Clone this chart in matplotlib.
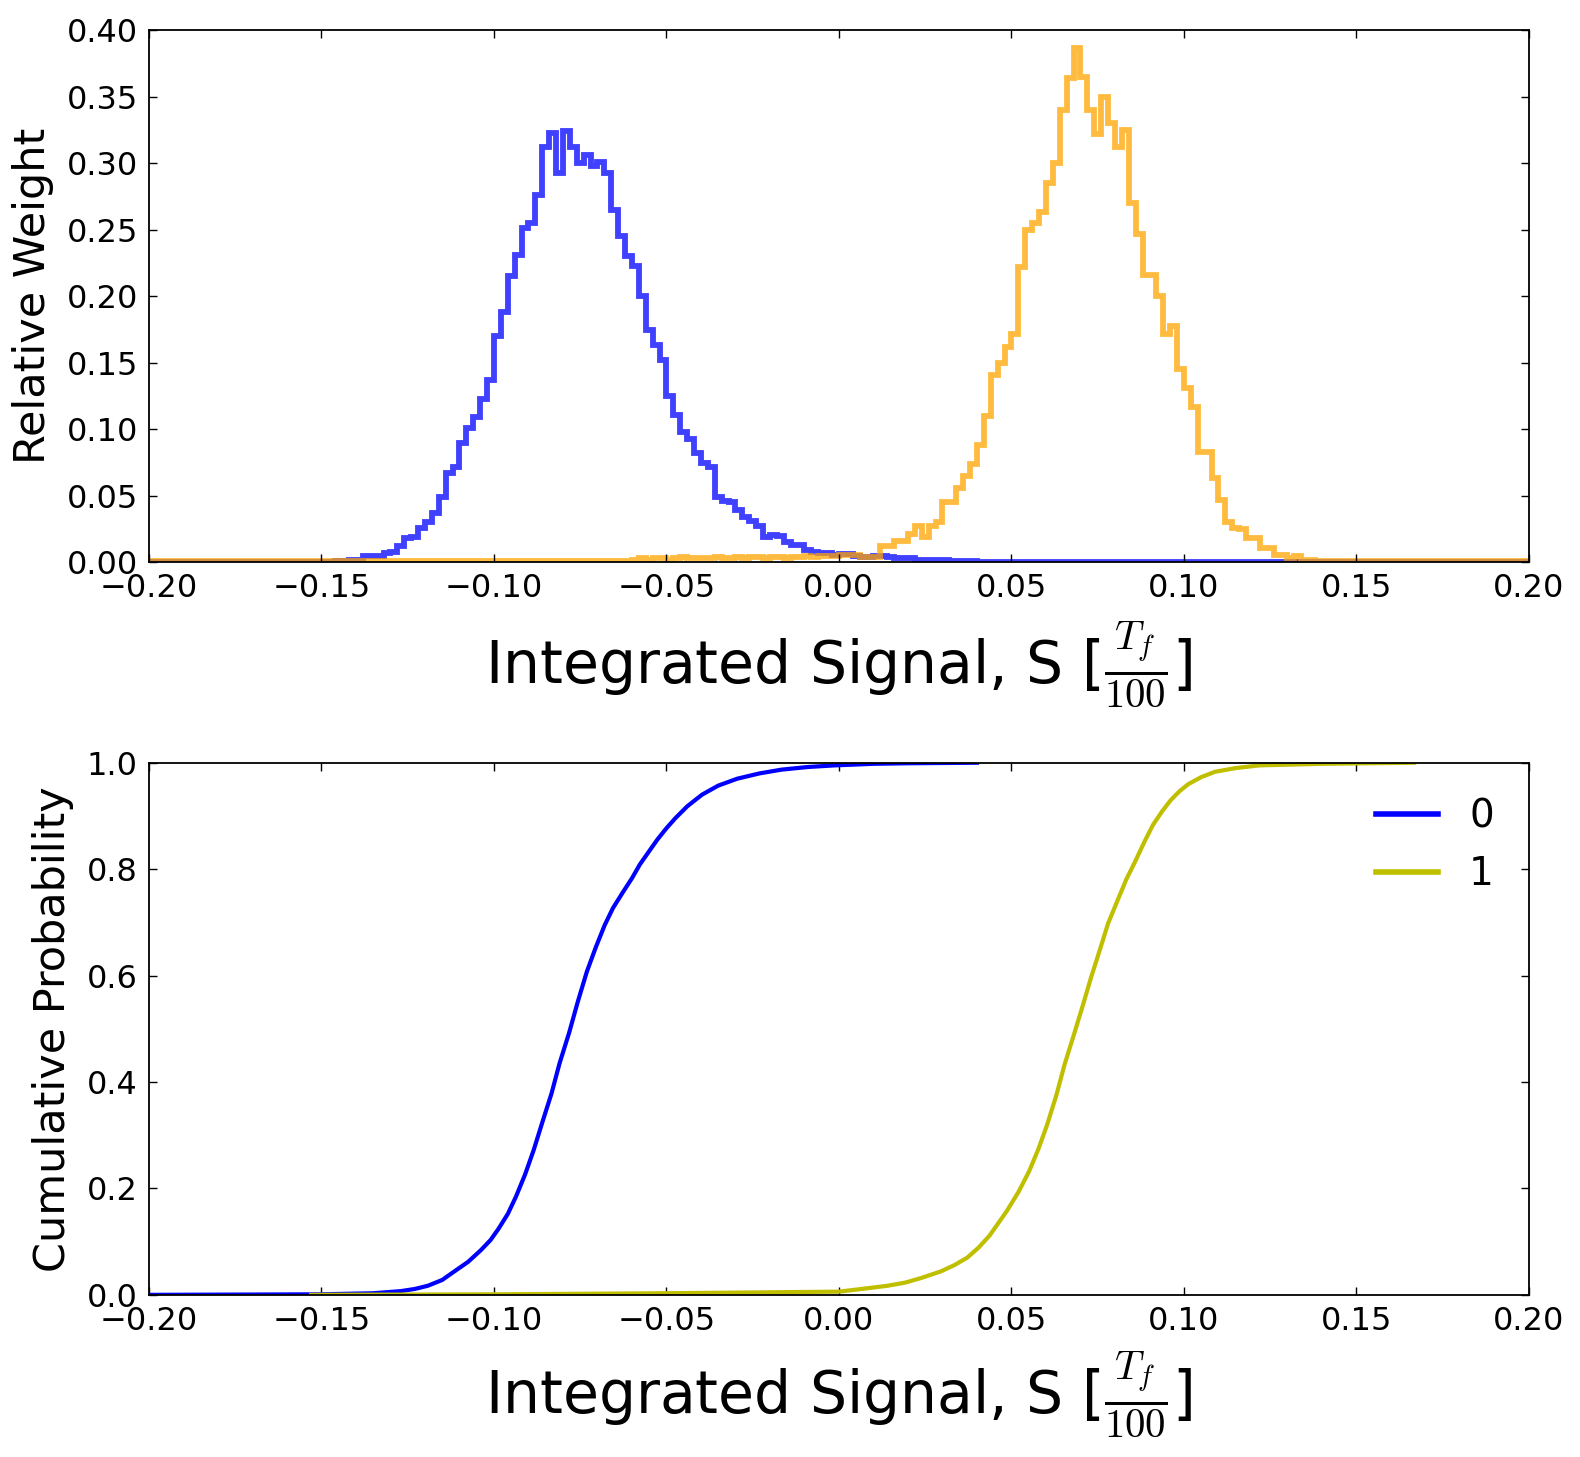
#!/usr/bin/env python3
"""Integrated signal histograms and cumulative distributions for states 0 and 1."""
import matplotlib

matplotlib.use("Agg")
import matplotlib.pyplot as plt
import numpy as np

# histogram binning (relative weight per bin)
bin_lo, bin_hi, bin_w = -0.2, 0.2, 0.002

# state 0: bins from blue_start onwards, floor elsewhere
blue_start = -0.146
blue_floor = 0.0005
blue_core = [
    0.001, 0.001, 0.0015, 0.002, 0.0045, 0.0045, 0.005, 0.007, 0.008, 0.012,
    0.018, 0.019, 0.026, 0.030, 0.037, 0.049, 0.067, 0.072, 0.090, 0.101,
    0.109, 0.123, 0.137, 0.170, 0.188, 0.215, 0.231, 0.251, 0.255, 0.276,
    0.312, 0.323, 0.293, 0.324, 0.312, 0.300, 0.306, 0.298, 0.301, 0.293,
    0.265, 0.245, 0.230, 0.223, 0.200, 0.175, 0.163, 0.152, 0.125, 0.111,
    0.098, 0.093, 0.082, 0.075, 0.072, 0.049, 0.046, 0.045, 0.039, 0.034,
    0.031, 0.027, 0.019, 0.0205, 0.020, 0.0155, 0.013, 0.013, 0.009, 0.008,
    0.007, 0.007, 0.0055, 0.006, 0.006, 0.005, 0.004, 0.004, 0.005, 0.005,
    0.004, 0.003, 0.003, 0.003, 0.002, 0.002, 0.002, 0.0015, 0.0015, 0.001,
    0.001, 0.001, 0.001,
]

# state 1
orange_start = -0.060
orange_floor = 0.0008
orange_core = [
    0.002, 0.003, 0.002, 0.003, 0.003, 0.002, 0.003, 0.004, 0.003, 0.003,
    0.003, 0.003, 0.004, 0.003, 0.003, 0.004, 0.003, 0.004, 0.004, 0.003,
    0.004, 0.004, 0.003, 0.004, 0.004, 0.005, 0.004, 0.005, 0.005, 0.005,
    0.0054, 0.0054, 0.0054, 0.004, 0.004, 0.004, 0.012, 0.012, 0.0157, 0.016,
    0.021, 0.027, 0.019, 0.027, 0.030, 0.0455, 0.0455, 0.0558, 0.065, 0.074,
    0.088, 0.110, 0.141, 0.150, 0.162, 0.172, 0.222, 0.250, 0.255, 0.263,
    0.285, 0.300, 0.340, 0.364, 0.387, 0.365, 0.340, 0.322, 0.350, 0.330,
    0.312, 0.325, 0.270, 0.247, 0.216, 0.216, 0.200, 0.172, 0.178, 0.145,
    0.131, 0.117, 0.083, 0.083, 0.0636, 0.047, 0.030, 0.026, 0.0248, 0.0183,
    0.0183, 0.0106, 0.0106, 0.0054, 0.0054, 0.003, 0.005, 0.002, 0.002,
]

# cumulative probability curves
cdf0_x = [-0.200, -0.150, -0.135, -0.127, -0.123, -0.1192, -0.115, -0.1115,
          -0.1075, -0.1038, -0.101, -0.0987, -0.096, -0.0936, -0.091, -0.0885,
          -0.086, -0.0833, -0.081, -0.0782, -0.0757, -0.0731, -0.0705, -0.0679,
          -0.0655, -0.0628, -0.060, -0.0577, -0.055, -0.0526, -0.050, -0.0474,
          -0.044, -0.0397, -0.035, -0.0295, -0.023, -0.0167, -0.009, -0.0013,
          0.010, 0.020, 0.040]
cdf0_y = [0.0, 0.001, 0.003, 0.007, 0.011, 0.017, 0.028, 0.044,
          0.062, 0.084, 0.103, 0.124, 0.152, 0.185, 0.226, 0.272,
          0.324, 0.379, 0.435, 0.493, 0.551, 0.607, 0.653, 0.695,
          0.727, 0.755, 0.783, 0.809, 0.834, 0.856, 0.877, 0.896,
          0.918, 0.940, 0.957, 0.970, 0.980, 0.987, 0.992, 0.995,
          0.998, 0.999, 1.0]
cdf1_x = [-0.153, -0.100, -0.050, 0.000, 0.009, 0.014, 0.0192, 0.024,
          0.0295, 0.0335, 0.0372, 0.0405, 0.0436, 0.046, 0.0487, 0.052,
          0.0551, 0.0578, 0.0603, 0.063, 0.0654, 0.068, 0.0705, 0.073,
          0.0756, 0.078, 0.0808, 0.0833, 0.0859, 0.0885, 0.0910, 0.0937,
          0.0962, 0.0988, 0.1013, 0.105, 0.1090, 0.115, 0.1218, 0.140, 0.1667]
cdf1_y = [0.0, 0.001, 0.003, 0.006, 0.013, 0.017, 0.023, 0.032,
          0.044, 0.056, 0.070, 0.089, 0.111, 0.133, 0.158, 0.193,
          0.232, 0.274, 0.319, 0.375, 0.433, 0.487, 0.540, 0.595,
          0.648, 0.698, 0.742, 0.781, 0.815, 0.851, 0.883, 0.909,
          0.930, 0.947, 0.960, 0.973, 0.983, 0.990, 0.995, 0.998, 1.0]

labels = ["0", "1"]
xlabel = r"Integrated Signal, S [$\frac{T_f}{100}$]"


def fill_bins(edges, start, core, floor):
    h = np.full(len(edges) - 1, floor)
    i0 = int(round((start - edges[0]) / bin_w))
    h[i0:i0 + len(core)] = core
    return h


def style_axes(ax):
    ax.tick_params(which="both", direction="in", top=True, right=True,
                   length=6, width=1, labelsize=23, pad=8)
    for s in ax.spines.values():
        s.set_linewidth(1.3)


def main():
    plt.rcParams["mathtext.fontset"] = "cm"
    edges = np.round(np.arange(bin_lo, bin_hi + bin_w / 2, bin_w), 4)
    h0 = fill_bins(edges, blue_start, blue_core, blue_floor)
    h1 = fill_bins(edges, orange_start, orange_core, orange_floor)

    fig = plt.figure(figsize=(15.8, 14.57), dpi=100)
    ax1 = fig.add_axes([0.0943, 0.6141, 0.8734, 0.3651])
    ax2 = fig.add_axes([0.0943, 0.1113, 0.8734, 0.3652])

    ax1.stairs(h0, edges, color="b", alpha=0.75, linewidth=4.2, baseline=None)
    ax1.stairs(h1, edges, color="orange", alpha=0.75, linewidth=4.2, baseline=None)
    ax1.set_xlim(-0.2, 0.2)
    ax1.set_ylim(0, 0.4)
    ax1.set_xticks(np.arange(-0.2, 0.201, 0.05))
    ax1.set_yticks(np.arange(0, 0.401, 0.05))
    ax1.set_ylabel("Relative Weight", fontsize=31, labelpad=9)
    ax1.set_xlabel(xlabel, fontsize=42, labelpad=11)
    style_axes(ax1)

    ax2.plot(cdf0_x, cdf0_y, color="b", linewidth=3, label=labels[0])
    ax2.plot(cdf1_x, cdf1_y, color="y", linewidth=3, label=labels[1])
    ax2.set_xlim(-0.2, 0.2)
    ax2.set_ylim(0, 1.0)
    ax2.set_xticks(np.arange(-0.2, 0.201, 0.05))
    ax2.set_yticks(np.arange(0, 1.01, 0.2))
    ax2.set_ylabel("Cumulative Probability", fontsize=31, labelpad=9)
    ax2.set_xlabel(xlabel, fontsize=42, labelpad=9)
    style_axes(ax2)
    leg = ax2.legend(loc="upper right", frameon=False, fontsize=28,
                     handlelength=1.6, borderaxespad=0.5)
    for ln in leg.get_lines():
        ln.set_linewidth(4)

    fig.savefig("out.png", dpi=100)
    print("wrote out.png")


if __name__ == "__main__":
    main()
